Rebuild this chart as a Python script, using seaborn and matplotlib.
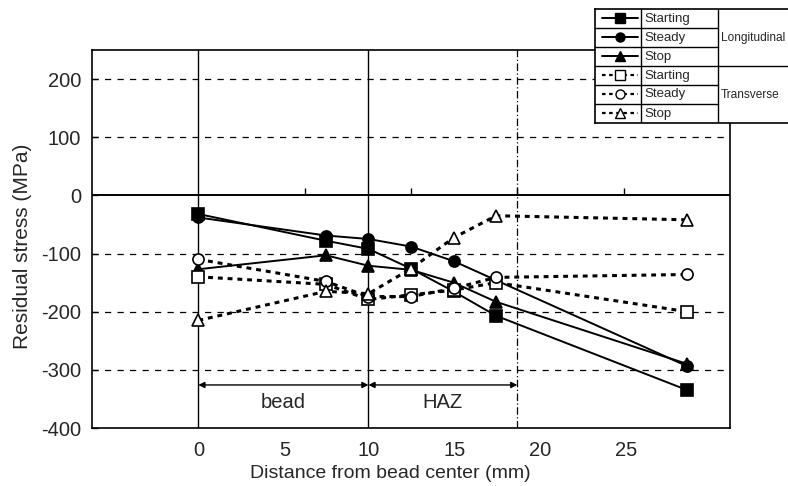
import matplotlib
matplotlib.use("Agg")
import matplotlib.pyplot as plt
import seaborn as sns
import pandas as pd
from matplotlib.lines import Line2D

sns.set_theme(style="white")
plt.rcParams['font.family'] = ['Liberation Sans', 'DejaVu Sans']

# ---------------- data ----------------
long_start_x = [0, 6, 8, 10, 12, 14, 23]
long_start_y = [-32, -78, -92, -126, -165, -207, -335]
long_steady_x = [0, 6, 8, 10, 12, 23]
long_steady_y = [-38, -69, -75, -88, -113, -294]
long_stop_x = [0, 6, 8, 10, 12, 14, 23]
long_stop_y = [-127, -103, -121, -128, -150, -183, -290]

trans_start_x = [0, 6, 8, 10, 12, 14, 23]
trans_start_y = [-140, -153, -179, -171, -163, -150, -200]
trans_steady_x = [0, 6, 8, 10, 12, 14, 23]
trans_steady_y = [-110, -148, -174, -174, -160, -141, -136]
trans_stop_x = [0, 6, 8, 10, 12, 14, 23]
trans_stop_y = [-215, -165, -169, -126, -73, -35, -42]

ytick_values = [200, 100, 0, -100, -200, -300, -400]
ytick_labels = ["200", "100", "0", "-100", "-200", "-300", "-400"]
xtick_labels = ["0", "5", "10", "15", "20", "25"]
xtick_pos = [0, 4.05, 8, 12.05, 16.05, 20.1]
zero_line_ticks = [5, 10, 15, 20]
legend_labels = ["Starting", "Steady", "Stop"]
group_labels = ["Longitudinal", "Transverse"]
region_labels = ["bead", "HAZ"]
region_bounds = [0, 8, 15]

# ---------------- figure ----------------
fig = plt.figure(figsize=(7.88, 4.86), dpi=100)
ax = fig.add_axes([92/788, 1-428/486, (730-92)/788, (428-50)/486])
ax.set_xlim(-5, 25)
ax.set_ylim(-400, 250)

# grid-like reference lines
for v in [200, 100, -100, -200, -300]:
    ax.axhline(v, color='black', lw=0.9, ls=(0, (5, 5)), zorder=1)
ax.axhline(0, color='black', lw=1.4, zorder=1)
ax.axvline(region_bounds[0], color='black', lw=1.0, zorder=1)
ax.axvline(region_bounds[1], color='black', lw=1.0, zorder=1)
ax.axvline(region_bounds[2], color='black', lw=0.9, ls=(0, (6, 2, 1, 2)), zorder=1)
# small tick marks sitting on the zero line
ax.plot(zero_line_ticks, [0]*len(zero_line_ticks), ls='none', marker=2,
        markersize=5, color='black', markeredgewidth=1.0, zorder=2)

solid = '-'
dotted = (0, (1.6, 1.6))
series = [
    (long_start_x, long_start_y, 's', 'black', solid),
    (long_steady_x, long_steady_y, 'o', 'black', solid),
    (long_stop_x, long_stop_y, '^', 'black', solid),
    (trans_start_x, trans_start_y, 's', 'white', dotted),
    (trans_steady_x, trans_steady_y, 'o', 'white', dotted),
    (trans_stop_x, trans_stop_y, '^', 'white', dotted),
]
for xs, ys, mk, fc, ls in series:
    df = pd.DataFrame({"x": xs, "y": ys})
    lw = 1.4 if ls == solid else 2.2
    sns.lineplot(data=df, x="x", y="y", ax=ax, color='black', marker=mk,
                 markersize=8, markerfacecolor=fc, markeredgecolor='black',
                 markeredgewidth=1.2, linestyle=ls, linewidth=lw, zorder=3)

# region arrows
for i, lab in enumerate(region_labels):
    a, b = region_bounds[i], region_bounds[i+1]
    ax.annotate("", xy=(a, -326), xytext=(b, -326),
                arrowprops=dict(arrowstyle='<|-|>', color='black', lw=1.0,
                                mutation_scale=9, shrinkA=0, shrinkB=0))
    ax.text((a+b)/2, -357, lab, ha='center', va='center', fontsize=14.5)

# ticks
ax.set_yticks(ytick_values)
ax.set_yticklabels(ytick_labels, fontsize=14.5)
ax.set_xticks(xtick_pos)
ax.set_xticklabels(xtick_labels, fontsize=14.5)
ax.tick_params(axis='x', length=0, pad=9)
ax.tick_params(axis='y', direction='in', length=4, width=1, pad=8, left=True)
ax.set_xlabel("Distance from bead center (mm)", fontsize=14)
ax.set_ylabel("Residual stress (MPa)", fontsize=15)
ax.xaxis.set_label_coords(0.467, -0.097)
ax.yaxis.set_label_coords(-0.094, 0.48)
for s in ax.spines.values():
    s.set_color('black')
    s.set_linewidth(1.2)

# ---------------- legend table ----------------
lx0, lx1, ly0, ly1 = 595, 800, 9, 123
lax = fig.add_axes([lx0/788, 1-ly1/486, (lx1-lx0)/788, (ly1-ly0)/486])
lax.set_xlim(lx0, lx1)
lax.set_ylim(ly1, ly0)
lax.set_facecolor('white')
lax.set_xticks([])
lax.set_yticks([])
for s in lax.spines.values():
    s.set_color('black')
    s.set_linewidth(1.2)
rows = [ly0 + 19*i for i in range(7)]
for r in rows[1:-1]:
    xend = 718 if r != rows[3] else lx1
    lax.add_line(Line2D([lx0, xend], [r, r], color='black', lw=1.0))
lax.add_line(Line2D([641, 641], [ly0, ly1], color='black', lw=1.0))
lax.add_line(Line2D([718, 718], [ly0, ly1], color='black', lw=1.0))
for i, (xs, ys, mk, fc, ls) in enumerate(series):
    yc = rows[i] + 9.5
    lw = 1.4 if ls == solid else 1.6
    lax.add_line(Line2D([602, 638], [yc, yc], color='black', lw=lw, ls=ls))
    lax.add_line(Line2D([620], [yc], color='black', marker=mk, markersize=6.5,
                        markerfacecolor=fc, markeredgecolor='black', lw=0))
    lax.text(644, yc, legend_labels[i % 3], ha='left', va='center', fontsize=9.5)
lax.text(721, rows[0] + 28.5, group_labels[0], ha='left', va='center', fontsize=8.6)
lax.text(721, rows[3] + 28.5, group_labels[1], ha='left', va='center', fontsize=8.6)

fig.savefig("out.png", dpi=100)
